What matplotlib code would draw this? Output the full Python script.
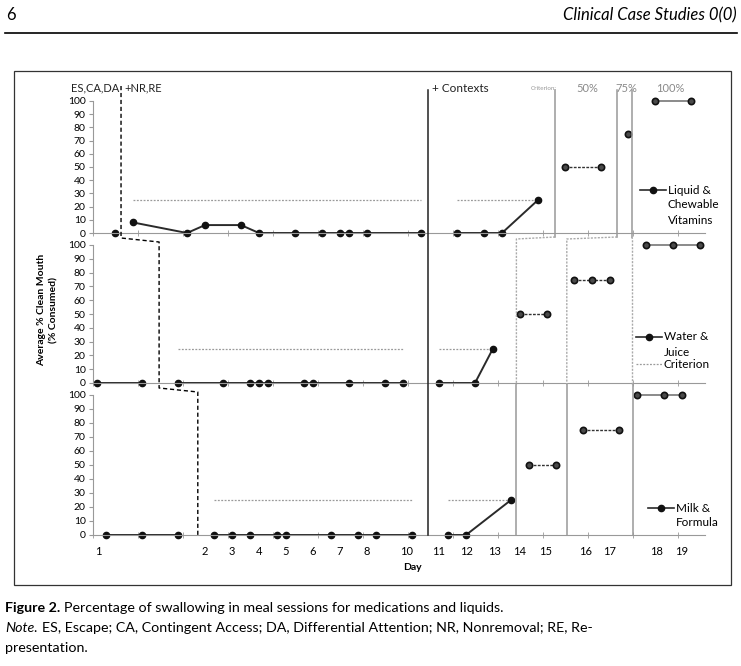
import matplotlib.pyplot as plt
from matplotlib.lines import Line2D
from matplotlib.patches import Rectangle

plt.rcParams['font.family'] = ['Lato', 'DejaVu Sans']

W, H = 741, 666

# ---- data (x = session number, y = % clean mouth) ----
criterion = 25

# Liquid & Chewable Vitamins
vit_es_x = [3]
vit_es_y = [0]
vit_bl_x = [5, 11, 13, 17, 19, 23, 26, 28, 29, 31, 37]
vit_bl_y = [8, 0, 6, 6, 0, 0, 0, 0, 0, 0, 0]
vit_ctx_x = [41, 44, 46, 50]
vit_ctx_y = [0, 0, 0, 25]
vit_50_x = [53, 57]
vit_50_y = [50, 50]
vit_75_x = [60]
vit_75_y = [75]
vit_100_x = [63, 67]
vit_100_y = [100, 100]

# Water & Juice
wat_es_x = [1, 6]
wat_es_y = [0, 0]
wat_bl_x = [10, 15, 18, 19, 20, 24, 25, 29, 33, 35]
wat_bl_y = [0, 0, 0, 0, 0, 0, 0, 0, 0, 0]
wat_ctx_x = [39, 43, 45]
wat_ctx_y = [0, 0, 25]
wat_50_x = [48, 51]
wat_50_y = [50, 50]
wat_75_x = [54, 56, 58]
wat_75_y = [75, 75, 75]
wat_100_x = [62, 65, 68]
wat_100_y = [100, 100, 100]

# Milk & Formula
mlk_es_x = [2, 6, 10]
mlk_es_y = [0, 0, 0]
mlk_bl_x = [14, 16, 18, 21, 22, 27, 30, 32, 36]
mlk_bl_y = [0, 0, 0, 0, 0, 0, 0, 0, 0]
mlk_ctx_x = [40, 42, 47]
mlk_ctx_y = [0, 0, 25]
mlk_50_x = [49, 52]
mlk_50_y = [50, 50]
mlk_75_x = [55, 59]
mlk_75_y = [75, 75]
mlk_100_x = [61, 64, 66]
mlk_100_y = [100, 100, 100]

# phase change lines (session positions)
nr_re_x = [3.67, 7.9, 12.2]
contexts_x = 37.8
crit_top_x = [51.9, 58.8, 60.4]
crit_low_x = [47.6, 53.2, 60.5]

day_labels = ['1', '2', '3', '4', '5', '6', '7', '8', '10', '11', '12',
              '13', '14', '15', '16', '17', '18', '19']
day_pos = [1.1, 13, 16, 19, 22, 25, 28, 31, 35.4, 39, 42.1, 45.2,
           48, 50.8, 55.3, 57.9, 63.2, 66]


def px(x, y):
    return x / W, 1 - y / H


fig = plt.figure(figsize=(W / 100, H / 100), dpi=100)

# page header, frame
fig.text(*px(6, 15), '6', fontsize=12, va='center', ha='left')
fig.text(*px(737, 15), 'Clinical Case Studies 0(0)', fontsize=12,
         style='italic', va='center', ha='right')
fig.add_artist(Line2D([5 / W, 737 / W], [1 - 33 / H] * 2, color='black', lw=1.2))
fig.add_artist(Rectangle(px(14, 585), 717 / W, 514 / H, fill=False,
                         edgecolor='#333333', lw=0.9))


# caption: first word styled, rest follows on the same baseline
def caption(y, head, rest, **head_kw):
    t = fig.text(*px(5, y), head, fontsize=10.3, va='baseline', **head_kw)
    fig.text(0, 0, '', fontsize=1)
    ann = plt.annotate(rest, xy=(1, 1 - y / H), xycoords=(t, 'figure fraction'),
                       xytext=(3, 0), textcoords='offset points', fontsize=10.3,
                       va='baseline', annotation_clip=False)
    return ann


dummy = fig.add_axes([0, 0, 0.01, 0.01])
dummy.axis('off')
plt.sca(dummy)
caption(612, 'Figure 2.', 'Percentage of swallowing in meal sessions for medications and liquids.',
        fontweight='bold')
caption(632, 'Note.', 'ES, Escape; CA, Contingent Access; DA, Differential Attention; NR, Nonremoval; RE, Re-',
        style='italic')
fig.text(*px(5, 652), 'presentation.', fontsize=10.3, va='baseline')

# panel axes
panel_px = [(101, 233), (245, 383), (395, 535)]
left, right = 92.5, 704.5
axes = []
for top, bot in panel_px:
    ax = fig.add_axes([left / W, 1 - bot / H, (right - left) / W, (bot - top) / H])
    ax.set_xlim(0.5, 68.5)
    ax.set_ylim(0, 100)
    ax.set_yticks(range(0, 101, 10))
    ax.tick_params(axis='y', labelsize=7.5, length=3, color='#999999', pad=2)
    ax.set_xticks([x + 0.5 for x in range(0, 68, 5)], minor=True)
    ax.tick_params(axis='x', which='minor', direction='inout', length=5, color='#999999')
    ax.set_xticks([])
    for s in ['top', 'right']:
        ax.spines[s].set_visible(False)
    for s in ['left', 'bottom']:
        ax.spines[s].set_color('#999999')
    ax.patch.set_alpha(0)
    axes.append(ax)

axes[2].set_xticks(day_pos, labels=day_labels)
axes[2].tick_params(axis='x', which='major', length=0, labelsize=8, pad=8)

series = [
    (vit_es_x, vit_es_y, vit_bl_x, vit_bl_y, vit_ctx_x, vit_ctx_y, vit_50_x, vit_50_y,
     vit_75_x, vit_75_y, vit_100_x, vit_100_y),
    (wat_es_x, wat_es_y, wat_bl_x, wat_bl_y, wat_ctx_x, wat_ctx_y, wat_50_x, wat_50_y,
     wat_75_x, wat_75_y, wat_100_x, wat_100_y),
    (mlk_es_x, mlk_es_y, mlk_bl_x, mlk_bl_y, mlk_ctx_x, mlk_ctx_y, mlk_50_x, mlk_50_y,
     mlk_75_x, mlk_75_y, mlk_100_x, mlk_100_y),
]

dark = dict(color='#2a2a2a', lw=1.4, marker='o', ms=4.5, mfc='#111111', mec='#111111', clip_on=False)
light = dict(marker='o', ms=4.5, mfc='#4a4a4a', mec='#111111', mew=1.2, clip_on=False)
crit_style = dict(color='#9a9a9a', lw=0.9, ls=(0, (1.5, 1.2)), clip_on=False)

for ax, (esx, esy, blx, bly, cx, cy, x50, y50, x75, y75, x100, y100) in zip(axes, series):
    ax.plot(esx, esy, **dark)
    ax.plot(blx, [criterion] * len(blx), **crit_style)
    ax.plot(blx, bly, **dark)
    ax.plot(cx, [criterion] * len(cx), **crit_style)
    ax.plot(cx, cy, **dark)
    ax.plot(x50, y50, color='#333333', lw=1, ls=(0, (2, 1)), **light)
    ax.plot(x75, y75, color='#333333', lw=1, ls=(0, (2, 1)), **light)
    ax.plot(x100, y100, color='#777777', lw=1.2, **light)

# overlay for phase lines, y in pixel rows
ov = fig.add_axes([left / W, 1 - 540 / H, (right - left) / W, 460 / H])
ov.set_xlim(0.5, 68.5)
ov.set_ylim(540, 80)
ov.axis('off')
ov.patch.set_alpha(0)

a, b, c = nr_re_x
ov.plot([a, a, b, b, c, c], [86, 238, 242, 388, 392, 535], color='black', lw=1, ls=(0, (3, 2)))
ov.plot([contexts_x, contexts_x], [90, 535], color='#222222', lw=1.1)
for xt, xl in zip(crit_top_x, crit_low_x):
    ov.plot([xt, xt], [90, 237], color='#999999', lw=1.1)
    ov.plot([xt, xl, xl], [237, 239, 385], color='#aaaaaa', lw=1, ls=(0, (1.5, 1)))
    ov.plot([xl, xl], [385, 535], color='#999999', lw=1.1)

# phase labels
fig.text(*px(119, 88), 'ES,CA,DA', fontsize=8, ha='right', va='center', color='#222222')
fig.text(*px(124, 88), '+NR,RE', fontsize=8, ha='left', va='center', color='#222222')
fig.text(*px(432, 88), '+ Contexts', fontsize=8.5, ha='left', va='center', color='#222222')
fig.text(*px(557, 89), 'Criterion:', fontsize=4.5, ha='right', va='center', color='#999999')
fig.text(*px(587, 88), '50%', fontsize=8, ha='center', va='center', color='#8a8a8a')
fig.text(*px(626, 88), '75%', fontsize=8, ha='center', va='center', color='#8a8a8a')
fig.text(*px(670, 88), '100%', fontsize=8, ha='center', va='center', color='#8a8a8a')

# axis titles
fig.text(*px(42, 310), 'Average % Clean Mouth', rotation=90, fontsize=7.5,
         fontweight='bold', ha='center', va='center')
fig.text(*px(54, 310), '(% Consumed)', rotation=90, fontsize=7.5,
         fontweight='bold', ha='center', va='center')
fig.text(*px(412, 567), 'Day', fontsize=7.5, fontweight='bold', ha='center', va='center')


# legends drawn by hand so the handle sits on the first text line
def legend_entry(x0, y0, lines, dotted=False):
    if dotted:
        fig.add_artist(Line2D([x0 / W, (x0 + 26) / W], [1 - y0 / H] * 2, color='#9a9a9a',
                              lw=0.9, ls=(0, (1.5, 1.2))))
    else:
        fig.add_artist(Line2D([x0 / W, (x0 + 26) / W], [1 - y0 / H] * 2, color='#2a2a2a', lw=1.2))
        fig.add_artist(Line2D([(x0 + 13) / W], [1 - y0 / H], marker='o', ms=4.5,
                              color='#111111'))
    for i, t in enumerate(lines):
        fig.text(*px(x0 + 28, y0 + 15 * i), t, fontsize=8.5, va='center', ha='left')


legend_entry(640, 190, ['Liquid &', 'Chewable', 'Vitamins'])
legend_entry(636, 337, ['Water &', 'Juice'])
legend_entry(636, 364, ['Criterion'], dotted=True)
legend_entry(648, 508, ['Milk &', 'Formula'])

fig.savefig('out.png', dpi=100)
